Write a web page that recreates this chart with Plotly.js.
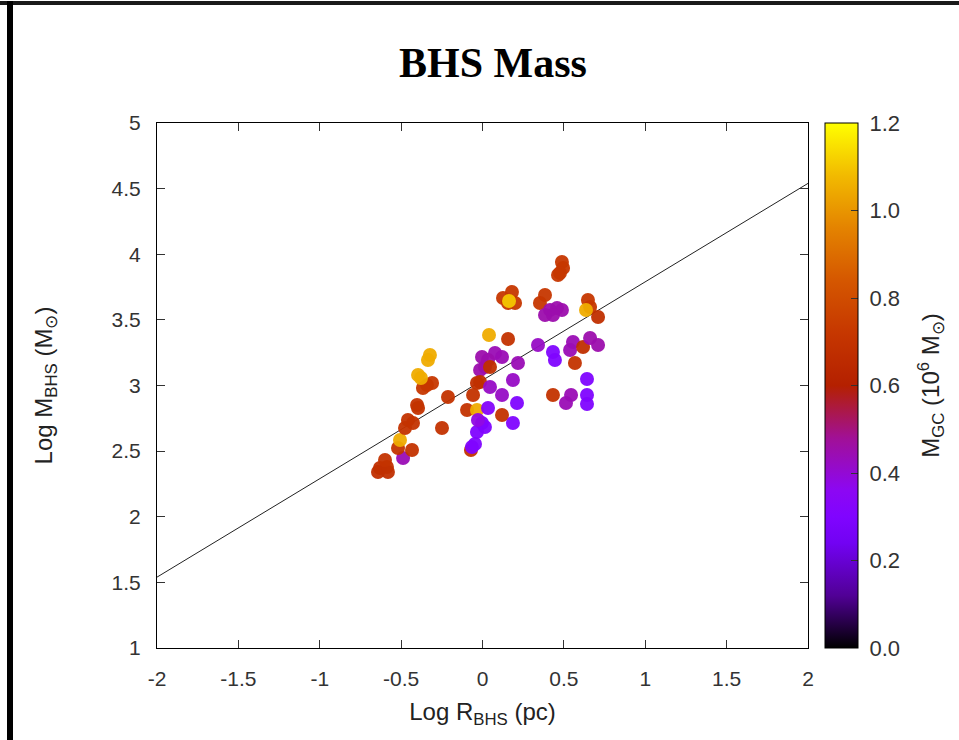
<!DOCTYPE html>
<html>
<head>
<meta charset="utf-8">
<script src="https://cdn.plot.ly/plotly-3.0.1.min.js"></script>
<style>
html,body{margin:0;padding:0;background:#fff;}
#wrap{position:relative;width:959px;height:740px;overflow:hidden;}
#chart{position:absolute;left:0;top:0;width:959px;height:740px;}
#topbar{position:absolute;left:0;top:1px;width:959px;height:4px;background:#1a1a1a;}
#leftbar{position:absolute;left:7px;top:1px;width:6px;height:740px;background:#000;}
</style>
</head>
<body>
<div id="wrap">
<div id="chart"></div>
<div id="topbar"></div>
<div id="leftbar"></div>
</div>
<script>
// Log R_BHS (pc)
const logR = [
  -0.630,-0.587,-0.642,-0.581,-0.599,-0.488,-0.519,-0.433,-0.507,-0.458,
  -0.427,-0.476,-0.249,-0.402,-0.396,-0.212,-0.341,-0.310,-0.366,-0.396,
  -0.378,-0.323,-0.335,
  0.040,0.157,-0.071,-0.003,0.077,0.120,0.015,-0.015,0.034,0.046,
  -0.015,-0.034,0.218,0.341,0.187,0.046,0.120,-0.058,0.212,-0.095,
  -0.034,0.034,0.120,0.187,-0.003,0.015,-0.034,-0.065,-0.046,-0.028,
  0.126,0.181,0.200,0.157,0.163,0.384,0.353,0.415,0.458,0.488,0.433,0.384,
  0.488,0.495,0.476,0.464,0.648,0.661,0.636,0.710,
  0.433,0.445,0.556,0.538,0.618,0.661,0.710,0.568,0.642,0.433,0.544,0.513,0.642,0.642
];
// Log M_BHS (Msun)
const logM = [
  2.371,2.379,2.341,2.341,2.432,2.448,2.524,2.509,2.585,2.737,
  2.714,2.676,2.676,2.851,2.829,2.912,3.004,3.019,2.981,3.080,
  3.057,3.232,3.194,
  3.385,3.354,2.509,3.217,3.248,3.217,3.141,3.118,3.194,3.141,
  3.027,3.019,3.171,3.309,3.042,2.989,2.928,2.928,2.867,2.813,
  2.813,2.829,2.775,2.714,2.714,2.684,2.646,2.531,2.554,2.737,
  3.667,3.712,3.629,3.629,3.644,3.690,3.629,3.575,3.590,3.575,3.537,3.537,
  3.941,3.895,3.857,3.842,3.651,3.598,3.575,3.522,
  3.255,3.194,3.331,3.270,3.293,3.362,3.309,3.171,3.050,2.928,2.928,2.867,2.928,2.859
];
// M_GC (10^6 Msun)
const mGC = [
  0.68,0.70,0.68,0.68,0.70,0.44,0.70,0.70,1.05,0.70,
  0.70,0.70,0.70,0.70,0.70,0.70,0.72,0.72,0.72,1.05,
  1.05,1.05,1.05,
  1.05,0.70,0.70,0.45,0.44,0.44,0.45,0.45,0.45,0.68,
  0.68,0.68,0.44,0.42,0.42,0.42,0.42,0.70,0.30,0.70,
  1.05,0.32,0.70,0.30,0.30,0.30,0.30,0.30,0.30,0.38,
  0.72,0.72,0.72,0.72,1.10,0.72,0.72,0.45,0.45,0.45,0.45,0.45,
  0.72,0.72,0.72,0.72,0.72,0.72,1.05,0.68,
  0.30,0.30,0.44,0.44,0.68,0.45,0.45,0.70,0.30,0.70,0.44,0.44,0.30,0.30
];
// fitted relation
const fitX = [-2, 2];
const fitY = [1.54, 4.54];
const xTicks = [-2,-1.5,-1,-0.5,0,0.5,1,1.5,2];
const yTicks = [1,1.5,2,2.5,3,3.5,4,4.5,5];
const cTicks = [0,0.2,0.4,0.6,0.8,1.0,1.2];

// gnuplot default palette (rgbformulae 7,5,15)
const palette = [
  [0.0,'rgb(0,0,0)'],[0.1,'rgb(81,0,150)'],[0.2,'rgb(114,2,243)'],[0.25,'rgb(128,4,255)'],
  [0.3,'rgb(140,7,243)'],[0.4,'rgb(161,16,150)'],[0.5,'rgb(180,32,0)'],[0.6,'rgb(198,55,0)'],
  [0.7,'rgb(213,87,0)'],[0.8,'rgb(228,131,0)'],[0.9,'rgb(242,186,0)'],[1.0,'rgb(255,255,0)']
];

const SANS = '"Liberation Sans", Arial, sans-serif';
const tickFont = {family:SANS, size:21, color:'#333'};
const titleFont = {family:SANS, size:24, color:'#222'};

const traces = [
  {
    x: fitX, y: fitY, mode:'lines', type:'scatter',
    line:{color:'#222', width:1}, hoverinfo:'skip', showlegend:false
  },
  {
    x: logR, y: logM, mode:'markers', type:'scatter', showlegend:false,
    marker:{
      size:14, color:mGC, cmin:0, cmax:1.2, colorscale:palette, opacity:0.95,
      line:{width:0},
      colorbar:{
        x:1.026, xanchor:'left', xpad:0, y:0.5, yanchor:'middle', ypad:0,
        len:1, lenmode:'fraction', thickness:33, thicknessmode:'pixels',
        outlinecolor:'#000', outlinewidth:1,
        tickvals:cTicks, ticktext:cTicks.map(v=>'\u00a0'+v.toFixed(1)+'\u00a0\u00a0'),
        ticks:'inside', ticklen:7, tickcolor:'#333',
        tickfont:{family:SANS, size:22, color:'#333'},
        title:{text:'M<sub>GC</sub> (10<sup>6</sup> M<sub>⊙</sub>)', side:'right',
               font:titleFont}
      }
    },
    hovertemplate:'%{x}, %{y}<extra></extra>'
  }
];

const layout = {
  width:959, height:740,
  paper_bgcolor:'#fff', plot_bgcolor:'#fff',
  margin:{l:157, r:151, t:123, b:92, autoexpand:false},
  title:{text:'<b>BHS Mass</b>', x:0.514, xanchor:'center', y:0.916, yanchor:'middle',
         font:{family:'"Liberation Serif", "Times New Roman", serif', size:42, color:'#000'}},
  xaxis:{
    range:[-2,2], tickvals:xTicks, ticktext:xTicks.map(String),
    ticks:'inside', ticklen:8, tickcolor:'#333', mirror:'ticks',
    showline:true, linecolor:'#000', linewidth:1, showgrid:false, zeroline:false,
    tickfont:tickFont, ticklabelstandoff:12,
    title:{text:'Log R<sub>BHS</sub> (pc)', standoff:13, font:titleFont}
  },
  yaxis:{
    range:[1,5], tickvals:yTicks, ticktext:yTicks.map(String),
    ticks:'inside', ticklen:8, tickcolor:'#333', mirror:'ticks',
    showline:true, linecolor:'#000', linewidth:1, showgrid:false, zeroline:false,
    tickfont:tickFont, ticklabelstandoff:11,
    title:{text:'Log M<sub>BHS</sub> (M<sub>⊙</sub>)', standoff:52, font:titleFont}
  }
};

Plotly.newPlot('chart', traces, layout, {displayModeBar:false, staticPlot:true});
</script>
</body>
</html>
